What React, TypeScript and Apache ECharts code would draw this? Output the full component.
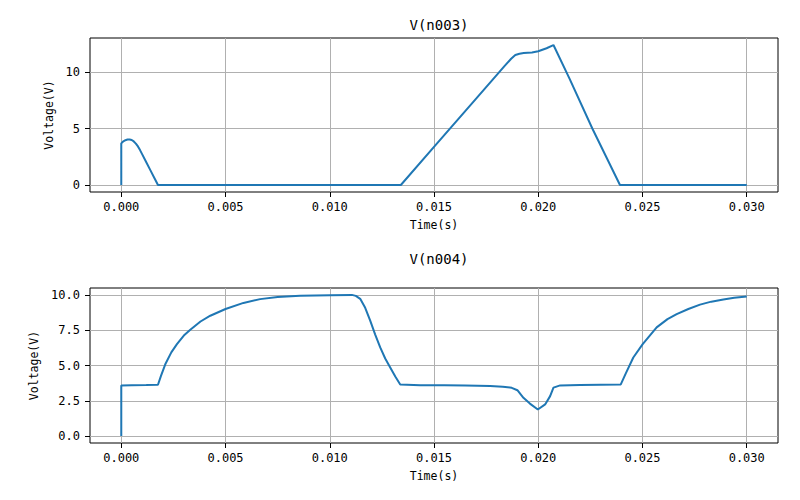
import React, { useEffect, useRef } from "react";
import * as echarts from "echarts";

const T003 = [0, 0, 0.0001, 0.0002, 0.0003, 0.0004, 0.0005, 0.0006, 0.0007, 0.0008, 0.0009, 0.001, 0.0012, 0.0014, 0.0016, 0.00176, 0.005, 0.01, 0.01341, 0.015, 0.017, 0.0184, 0.0187, 0.0189, 0.0191, 0.0193, 0.0197, 0.02, 0.0204, 0.0207, 0.02073, 0.0215, 0.0226, 0.02392, 0.025, 0.03];
const V003 = [0, 3.7, 3.88, 3.98, 4.04, 4.05, 4.0, 3.87, 3.68, 3.43, 3.1, 2.74, 2.02, 1.3, 0.58, 0, 0, 0, 0, 3.38, 7.63, 10.6, 11.22, 11.55, 11.66, 11.72, 11.78, 11.88, 12.15, 12.4, 12.44, 9.45, 5.0, 0, 0, 0];

const T004 = [0, 0, 0.0005, 0.0012, 0.00176, 0.0019, 0.00211, 0.0024, 0.00267, 0.003, 0.00331, 0.0038, 0.00427, 0.005, 0.00586, 0.00666, 0.0075, 0.00858, 0.01002, 0.01106, 0.01125, 0.01146, 0.0117, 0.01194, 0.01218, 0.01242, 0.01266, 0.0129, 0.01315, 0.01338, 0.01434, 0.0155, 0.0165, 0.01769, 0.0183, 0.01873, 0.019, 0.01929, 0.0196, 0.01998, 0.02033, 0.02057, 0.02073, 0.02105, 0.022, 0.023, 0.02396, 0.0242, 0.02456, 0.02501, 0.02568, 0.0262, 0.02664, 0.0272, 0.02776, 0.0283, 0.02888, 0.0294, 0.03];
const V004 = [0, 3.58, 3.6, 3.62, 3.64, 4.25, 5.09, 5.94, 6.52, 7.13, 7.54, 8.13, 8.54, 9.02, 9.45, 9.72, 9.87, 9.96, 10.0, 10.02, 9.95, 9.74, 9.1, 8.19, 7.2, 6.29, 5.5, 4.86, 4.2, 3.66, 3.61, 3.6, 3.58, 3.55, 3.5, 3.42, 3.25, 2.71, 2.3, 1.88, 2.24, 2.83, 3.43, 3.59, 3.62, 3.64, 3.66, 4.45, 5.57, 6.52, 7.71, 8.3, 8.66, 9.02, 9.33, 9.54, 9.69, 9.81, 9.9];

const X_TICKS = [0, 0.005, 0.01, 0.015, 0.02, 0.025, 0.03];
const Y003_TICKS = [0, 5, 10];
const Y004_TICKS = [0, 2.5, 5, 7.5, 10];

const TITLES = ["V(n003)", "V(n004)"];
const X_NAME = "Time(s)";
const Y_NAME = "Voltage(V)";

const FONT = "DejaVu Sans Mono";
const LINE_COLOR = "#1f77b4";
const GRID_COLOR = "#b0b0b0";

function pairs(t: number[], v: number[]) {
  return t.map((x, i) => [x, v[i]]);
}

export default function App() {
  const ref = useRef<HTMLDivElement>(null);
  useEffect(() => {
    if (!ref.current) return;
    const chart = echarts.init(ref.current, null, { renderer: "svg" });
    const gridLeft = 90;
    const gridRight = 22;
    const grids = [
      { left: gridLeft, right: gridRight, top: 38, height: 154 },
      { left: gridLeft, right: gridRight, top: 288, height: 155 },
    ];
    const mkX = (gi: number) => ({
      type: "value",
      gridIndex: gi,
      min: -0.0015,
      max: 0.0315,
      name: X_NAME,
      nameLocation: "middle",
      nameGap: 27,
      nameTextStyle: { fontFamily: FONT, fontSize: 11.5, color: "#000" },
      axisLine: { show: false, onZero: false },
      axisTick: { show: true, inside: false, length: 5, customValues: X_TICKS, lineStyle: { color: "#000", width: 1 } },
      axisLabel: {
        customValues: X_TICKS,
        margin: 9,
        fontFamily: FONT,
        fontSize: 12,
        color: "#000",
        formatter: (v: number) => v.toFixed(3),
      },
      splitLine: { show: true, lineStyle: { color: GRID_COLOR, width: 1 } },
    });
    const mkY = (gi: number, min: number, max: number, ticks: number[], dec: number) => ({
      type: "value",
      gridIndex: gi,
      min,
      max,
      name: Y_NAME,
      nameLocation: "middle",
      nameRotate: 90,
      nameGap: gi === 0 ? 32 : 41,
      nameTextStyle: { fontFamily: FONT, fontSize: 11.5, color: "#000" },
      axisLine: { show: false, onZero: false },
      axisTick: { show: true, inside: false, length: 5, customValues: ticks, lineStyle: { color: "#000", width: 1 } },
      axisLabel: {
        customValues: ticks,
        margin: 10,
        fontFamily: FONT,
        fontSize: 12,
        color: "#000",
        formatter: (v: number) => v.toFixed(dec),
      },
      splitLine: { show: true, lineStyle: { color: GRID_COLOR, width: 1 } },
    });
    chart.setOption({
      animation: false,
      backgroundColor: "#fff",
      title: [
        { text: TITLES[0], left: 434, top: 13, textAlign: "center", textStyle: { fontFamily: FONT, fontSize: 14, fontWeight: "normal", color: "#000" } },
        { text: TITLES[1], left: 434, top: 247, textAlign: "center", textStyle: { fontFamily: FONT, fontSize: 14, fontWeight: "normal", color: "#000" } },
      ],
      grid: grids.map((g) => ({ ...g, show: true, borderColor: "#000", borderWidth: 1, backgroundColor: "transparent", containLabel: false })),
      xAxis: [mkX(0), mkX(1)],
      yAxis: [mkY(0, -0.622, 13.06, Y003_TICKS, 0), mkY(1, -0.5, 10.51, Y004_TICKS, 1)],
      series: [
        {
          type: "line",
          xAxisIndex: 0,
          yAxisIndex: 0,
          data: pairs(T003, V003),
          showSymbol: false,
          symbol: "none",
          lineStyle: { color: LINE_COLOR, width: 2 },
          z: 5,
        },
        {
          type: "line",
          xAxisIndex: 1,
          yAxisIndex: 1,
          data: pairs(T004, V004),
          showSymbol: false,
          symbol: "none",
          lineStyle: { color: LINE_COLOR, width: 2 },
          z: 5,
        },
      ],
    });
    return () => chart.dispose();
  }, []);
  return <div ref={ref} style={{ position: "fixed", left: 0, top: 0, width: 800, height: 500, background: "#fff" }} />;
}
